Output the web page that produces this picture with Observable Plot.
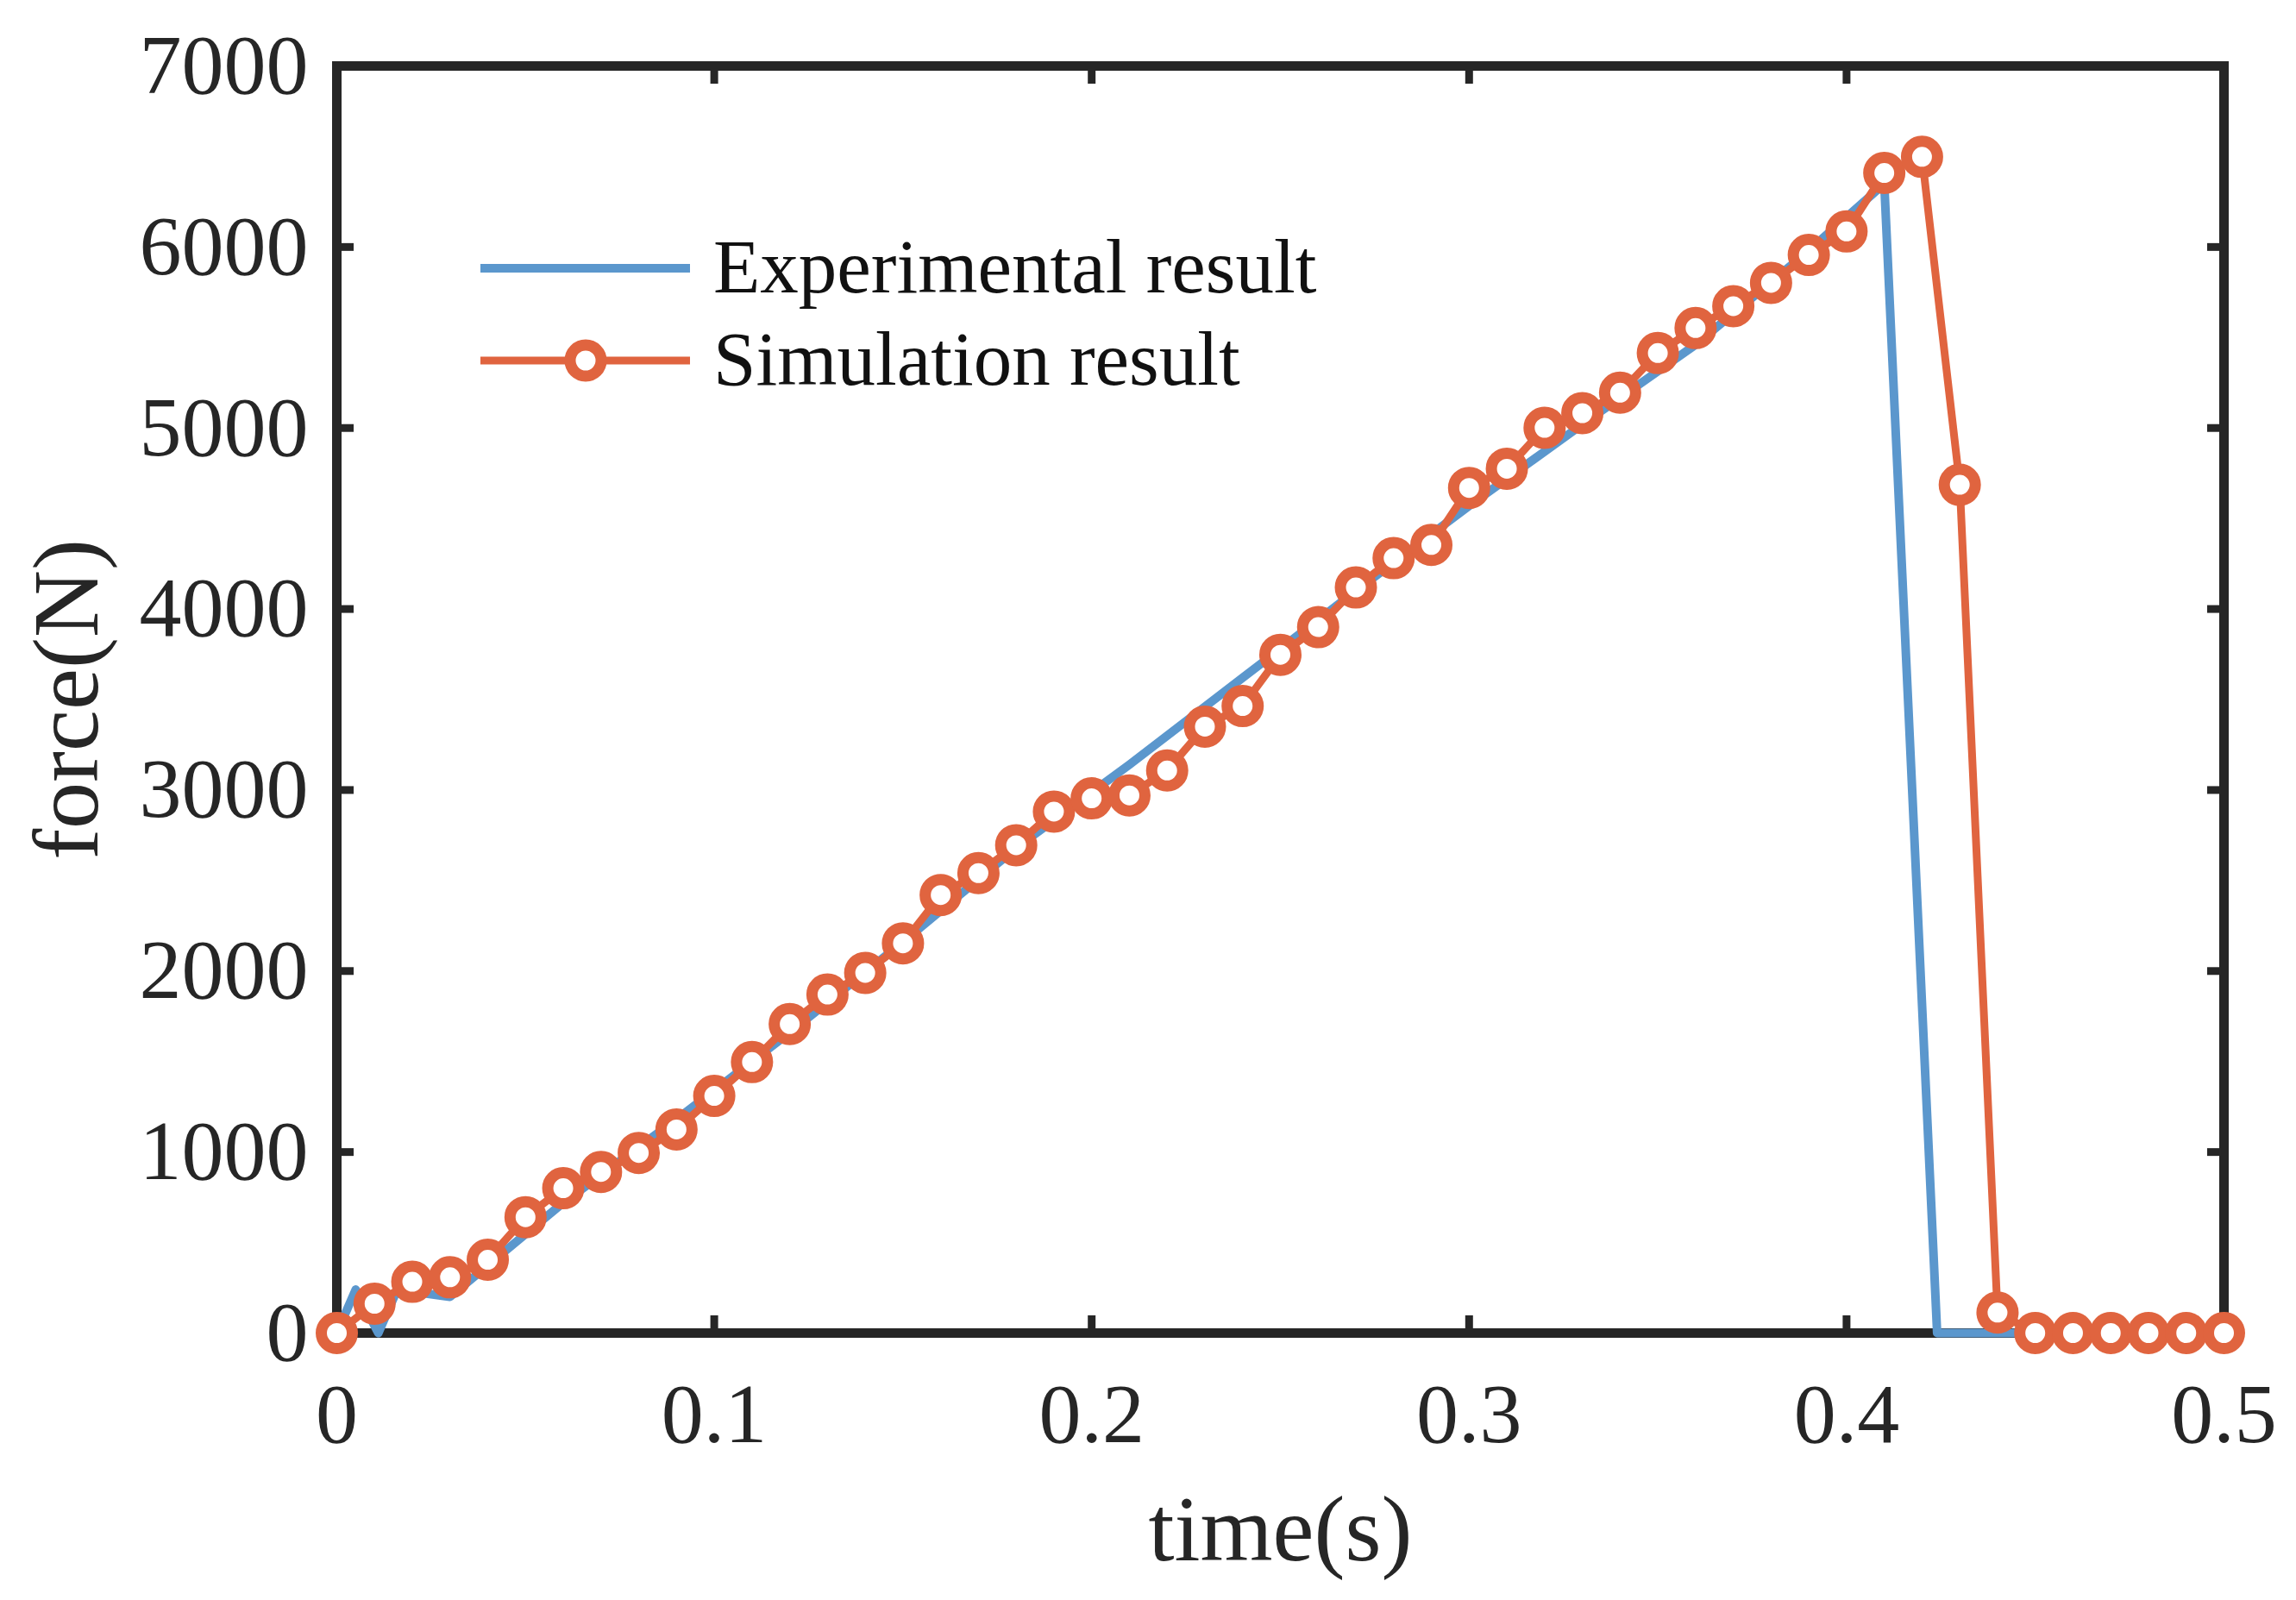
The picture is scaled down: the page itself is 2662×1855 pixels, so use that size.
<!DOCTYPE html>
<html>
<head>
<meta charset="utf-8">
<script src="https://cdn.jsdelivr.net/npm/d3@7"></script>
<script src="https://cdn.jsdelivr.net/npm/@observablehq/plot@0.6"></script>
<style>
  html, body { margin: 0; padding: 0; background: white; }
  #wrap { position: relative; width: 2662px; height: 1855px; }
  #legend { position: absolute; left: 0; top: 0; }
</style>
</head>
<body>
<div id="wrap"></div>
<script>
// ---- data ----
const simTime = [0, 0.01, 0.02, 0.03, 0.04, 0.05, 0.06, 0.07, 0.08, 0.09,
  0.10, 0.11, 0.12, 0.13, 0.14, 0.15, 0.16, 0.17, 0.18, 0.19,
  0.20, 0.21, 0.22, 0.23, 0.24, 0.25, 0.26, 0.27, 0.28, 0.29,
  0.30, 0.31, 0.32, 0.33, 0.34, 0.35, 0.36, 0.37, 0.38, 0.39,
  0.40, 0.41, 0.42, 0.43, 0.44, 0.45, 0.46, 0.47, 0.48, 0.49, 0.50];
const simForce = [0, 162, 283, 308, 405, 640, 800, 890, 995, 1125,
  1310, 1497, 1707, 1870, 1990, 2153, 2420, 2541, 2695, 2881,
  2954, 2970, 3108, 3350, 3464, 3747, 3900, 4119, 4281, 4354,
  4669, 4775, 5001, 5082, 5195, 5414, 5552, 5673, 5802, 5956,
  6086, 6409, 6498, 4686, 113, 0, 0, 0, 0, 0, 0];
const expTime = [0, 0.005, 0.011, 0.016, 0.03, 0.06, 0.09, 0.12, 0.15, 0.18,
  0.21, 0.24, 0.27, 0.30, 0.33, 0.36, 0.39, 0.41, 0.424, 0.5];
const expForce = [0, 240, 0, 240, 200, 720, 1180, 1660, 2160, 2680,
  3140, 3620, 4100, 4570, 5020, 5460, 5980, 6350, 0, 0];
const xTicks = [0, 0.1, 0.2, 0.3, 0.4, 0.5];
const yTicks = [0, 1000, 2000, 3000, 4000, 5000, 6000, 7000];
const seriesNames = ["Experimental result", "Simulation result"];
const xLabel = "time(s)";
const yLabel = "force(N)";

const blue = "#5b97cd";
const red = "#e0643f";
const ink = "#262626";

const sim = simTime.map((t, i) => ({t, f: simForce[i]}));
const exp = expTime.map((t, i) => ({t, f: expForce[i]}));

const chart = Plot.plot({
  width: 2662,
  height: 1855,
  marginLeft: 390,
  marginRight: 84,
  marginTop: 76,
  marginBottom: 310,
  style: {fontFamily: "'Liberation Serif', 'DejaVu Serif', serif", background: "white", color: ink},
  x: {domain: [0, 0.5]},
  y: {domain: [0, 7000]},
  marks: [
    Plot.axisX(xTicks, {anchor: "bottom", tickSize: -20, tickPadding: 77, fontSize: 98, strokeWidth: 9,
      label: null, tickFormat: d => d === 0 ? "0" : d3.format(".1f")(d)}),
    Plot.axisX(xTicks, {anchor: "top", tickSize: -20, strokeWidth: 9, label: null, tickFormat: () => ""}),
    Plot.axisY(yTicks, {anchor: "left", tickSize: -20, tickPadding: 53, fontSize: 98, strokeWidth: 9,
      label: null, tickFormat: d => String(d)}),
    Plot.axisY(yTicks, {anchor: "right", tickSize: -20, strokeWidth: 9, label: null, tickFormat: () => ""}),
    Plot.frame({stroke: ink, strokeWidth: 11}),
    Plot.text([xLabel], {frameAnchor: "bottom", dy: 263, fontSize: 108, fill: ink}),
    Plot.text([yLabel], {frameAnchor: "left", textAnchor: "middle", rotate: -90, dx: -312, fontSize: 108, fill: ink}),
    Plot.line(exp, {x: "t", y: "f", stroke: blue, strokeWidth: 10}),
    Plot.line(sim, {x: "t", y: "f", stroke: red, strokeWidth: 9}),
    Plot.dot(sim, {x: "t", y: "f", r: 18, stroke: red, strokeWidth: 13, fill: "white"})
  ]
});

const wrap = document.getElementById("wrap");
wrap.appendChild(chart);

// ---- legend overlay ----
const leg = d3.select(wrap).append("svg")
  .attr("id", "legend")
  .attr("width", 2662).attr("height", 1855)
  .style("font-family", "'Liberation Serif', 'DejaVu Serif', serif");
const rows = [
  {name: seriesNames[0], color: blue, marker: false, y: 311},
  {name: seriesNames[1], color: red, marker: true, y: 418}
];
rows.forEach(r => {
  leg.append("line").attr("x1", 557).attr("x2", 800).attr("y1", r.y).attr("y2", r.y)
    .attr("stroke", r.color).attr("stroke-width", r.marker ? 9 : 10);
  if (r.marker) {
    leg.append("circle").attr("cx", 679).attr("cy", r.y).attr("r", 18)
      .attr("fill", "white").attr("stroke", r.color).attr("stroke-width", 13);
  }
  leg.append("text").attr("x", 827).attr("y", r.y).attr("dy", "0.32em")
    .attr("font-size", 89).attr("fill", "#111").text(r.name);
});
</script>
</body>
</html>
